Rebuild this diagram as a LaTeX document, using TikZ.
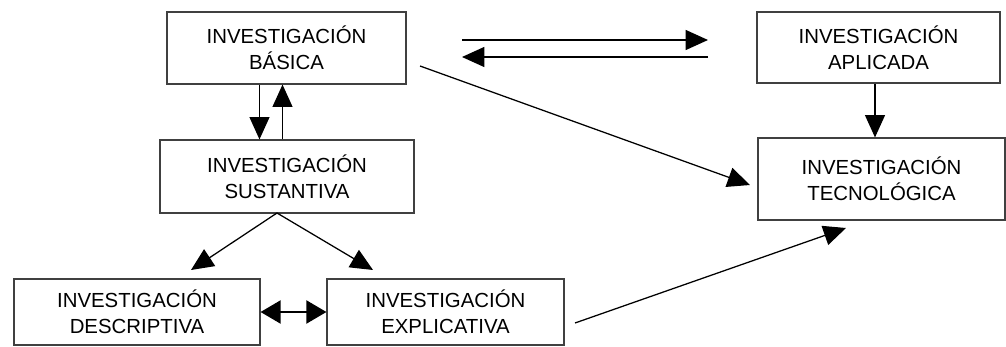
\documentclass[tikz,border=0pt]{standalone}
\usepackage{fontspec}
\setmainfont{Liberation Sans}
\usetikzlibrary{arrows.meta}
\definecolor{GrisCaja}{rgb}{0.25,0.25,0.25}

\tikzset{
    caja/.style = {draw=GrisCaja, line width=0.8pt, inner sep=0pt, align=center,
                   font=\fontsize{14.5}{18.5}\selectfont},
    flecha/.style = {line width=0.9pt, -{Triangle[length=0.56cm, width=0.5cm]}}
}

\begin{document}
\begin{tikzpicture}[x=0.025cm, y=-0.025cm]
    \useasboundingbox (0,0) rectangle (1006,347);
    %%Cajas
    \node[caja, minimum width=5.975cm, minimum height=1.8cm] (basica) at (286.5,48) {INVESTIGACIÓN\\BÁSICA};
    \node[caja, minimum width=6.075cm, minimum height=1.775cm] (aplicada) at (878.5,47.5) {INVESTIGACIÓN\\APLICADA};
    \node[caja, minimum width=6.35cm, minimum height=1.825cm] (sustantiva) at (287,176.5) {INVESTIGACIÓN\\SUSTANTIVA};
    \node[caja, minimum width=6.175cm, minimum height=2.05cm] (tecnologica) at (881.5,179) {INVESTIGACIÓN\\TECNOLÓGICA};
    \node[caja, minimum width=6.15cm, minimum height=1.65cm] (descriptiva) at (137,312) {INVESTIGACIÓN\\DESCRIPTIVA};
    \node[caja, minimum width=5.925cm, minimum height=1.65cm] (explicativa) at (445.5,312) {INVESTIGACIÓN\\EXPLICATIVA};
    %%Puntos libres
    \coordinate (idaA) at (462,40);
    \coordinate (idaB) at (708,40);
    \coordinate (vueltaA) at (708,57);
    \coordinate (vueltaB) at (462,57);
    \coordinate (basSale) at (420,66);
    \coordinate (tecLlega) at (750,185);
    \coordinate (sustSale) at (277,213);
    \coordinate (descLlega) at (191,270);
    \coordinate (explLlega) at (373,270);
    \coordinate (explSale) at (575,323);
    \coordinate (tecLlegaB) at (846,228);
    %%Basica - Aplicada
    \draw[flecha] (idaA) to (idaB);
    \draw[flecha] (vueltaA) to (vueltaB);
    %%Basica - Sustantiva
    \draw[flecha] ([xshift=-0.675cm]basica.south) to ([xshift=-0.675cm]basica.south |- sustantiva.north);
    \draw[flecha] ([xshift=-0.1cm]basica.south |- sustantiva.north) to ([xshift=-0.1cm]basica.south);
    %%Hacia Tecnologica
    \draw[flecha] (basSale) to (tecLlega);
    \draw[flecha] ([xshift=-0.0875cm]aplicada.south) to ([xshift=-0.0875cm]aplicada.south |- tecnologica.north);
    \draw[flecha] (explSale) to (tecLlegaB);
    %%Sustantiva - Descriptiva - Explicativa
    \draw[flecha] (sustSale) to (descLlega);
    \draw[flecha] (sustSale) to (explLlega);
    \draw[line width=0.9pt, {Triangle[length=0.5cm, width=0.58cm]}-{Triangle[length=0.5cm, width=0.58cm]}] (descriptiva.east) to (explicativa.west);
\end{tikzpicture}
\end{document}
